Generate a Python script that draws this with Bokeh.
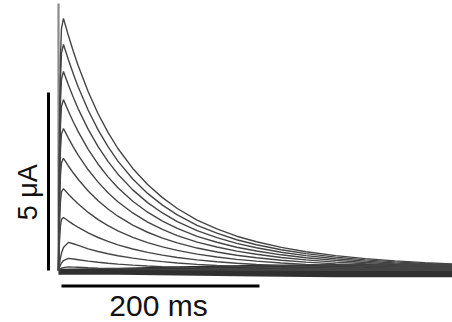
import numpy as np
from bokeh.plotting import figure
from bokeh.embed import file_html
from bokeh.resources import INLINE
from bokeh.core.properties import value

# ---- data ----
# peak amplitudes of the current traces (uA)
amplitudes = [7.08, 6.35, 5.59, 4.80, 3.99, 3.15, 2.30, 1.49, 0.79, 0.34, 0.10]
# normalized time course, time in ms
shape_t = [0, 1, 2, 3, 5, 10, 15, 20, 30, 40, 50, 60, 75, 90, 105, 120, 140,
           160, 180, 200, 225, 250, 280, 310, 340, 370, 400]
shape_fast = [0.0, 0.55, 0.85, 0.96, 1.0, 0.932, 0.869, 0.811, 0.709, 0.622,
              0.548, 0.484, 0.405, 0.341, 0.289, 0.246, 0.200, 0.165, 0.136,
              0.114, 0.0917, 0.0746, 0.0589, 0.0470, 0.0380, 0.0310, 0.0255]
# slower rise for the smallest traces
shape_slow = [0.0, 0.25, 0.45, 0.62, 0.82, 1.0, 0.95, 0.89, 0.77, 0.675,
              0.595, 0.525, 0.44, 0.37, 0.314, 0.267, 0.217, 0.179, 0.148,
              0.124, 0.0995, 0.081, 0.064, 0.051, 0.041, 0.034, 0.028]
# noisy baseline band
band_t = [0, 60, 120, 200, 280, 400]
band_lo = [-0.12, -0.12, -0.14, -0.17, -0.19, -0.19]
band_hi = [0.05, 0.08, 0.12, 0.16, 0.18, 0.18]
transient_top = 7.5   # uA
scale_y = 5           # uA
scale_x = 200         # ms
label_y = "5 \u03bcA"
label_x = "200 ms"

p = figure(width=452, height=322, x_range=(-58.6, 398.0), y_range=(-1.461, 7.584),
           output_backend="svg", toolbar_location=None, min_border=0)
p.axis.visible = False
p.grid.visible = False
p.outline_line_color = None
p.background_fill_color = "white"

# baseline noise band
p.varea(x=band_t, y1=band_lo, y2=band_hi, fill_color="#1a1a1a", fill_alpha=0.9)

# capacitive transient
p.segment(x0=[0], y0=[0], x1=[0], y1=[transient_top], line_color="#8a8a8a", line_width=2.2)

for i, a in enumerate(amplitudes):
    sh = shape_slow if a < 1.0 else shape_fast
    ys = [a * s for s in sh]
    p.line(shape_t, ys, line_color="#454545", line_width=1.4)

# scale bars
p.segment(x0=[-10.1], y0=[0], x1=[-10.1], y1=[scale_y], line_color="black", line_width=3)
p.segment(x0=[3], y0=[-0.435], x1=[3 + scale_x], y1=[-0.435], line_color="black", line_width=3)

p.text(x=[101], y=[-0.98], text=[label_x], text_font=value("Liberation Sans"),
       text_font_size="30px", text_align="center", text_baseline="middle", text_color="#111111")
p.text(x=[-31], y=[2.2], text=[label_y], text_font=value("Liberation Sans"),
       text_font_size="27px", text_align="center", text_baseline="middle",
       angle=np.pi / 2, text_color="#111111")

open("out.html", "w").write(file_html(p, INLINE))
